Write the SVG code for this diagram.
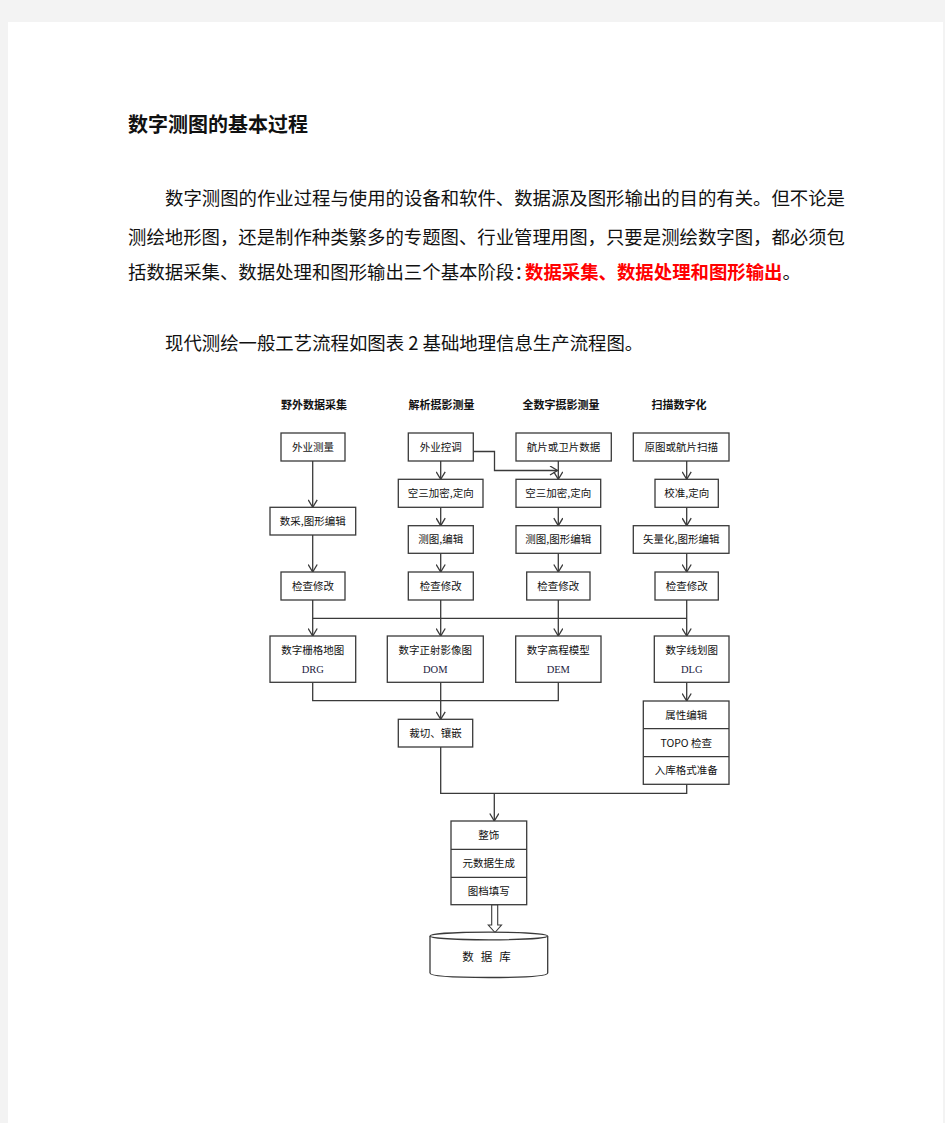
<svg xmlns="http://www.w3.org/2000/svg" width="945" height="1123" viewBox="0 0 945 1123">
<defs>
<style>
.cn{font-family:"Noto Sans CJK SC","Noto Sans",sans-serif;fill:#111}
.t{font-size:10.5px;text-anchor:middle}
.h{font-size:11px;font-weight:bold;text-anchor:middle}
.lat{font-family:"Liberation Serif",serif;font-size:10.5px;text-anchor:middle;fill:#1a1a40}
.box{fill:#fff;stroke:#3a3a3a;stroke-width:1.3}
.ln{fill:none;stroke:#3a3a3a;stroke-width:1.3}
.ar{fill:none;stroke:#3a3a3a;stroke-width:1.3;marker-end:url(#arr)}
.p{font-size:18.4px}
</style>
<marker id="arr" viewBox="0 0 10 10" refX="8.5" refY="5" markerWidth="10" markerHeight="10" markerUnits="userSpaceOnUse" orient="auto">
<path d="M1,0.5 L8.5,5 L1,9.5" fill="none" stroke="#3a3a3a" stroke-width="1.3"/>
</marker>
</defs>
<rect x="0" y="0" width="945" height="1123" fill="#f3f3f3"/>
<rect x="8" y="22" width="935" height="1101" fill="#fff"/>

<g id="header">
<text class="cn" x="128" y="132" font-size="20" font-weight="bold">数字测图的基本过程</text>
<text class="cn p" x="165" y="205" textLength="680" lengthAdjust="spacing">数字测图的作业过程与使用的设备和软件、数据源及图形输出的目的有关。但不论是</text>
<text class="cn p" x="128" y="244" textLength="717" lengthAdjust="spacing">测绘地形图，还是制作种类繁多的专题图、行业管理用图，只要是测绘数字图，都必须包</text>
<text class="cn p" x="128" y="279">括数据采集、数据处理和图形输出三个基本阶段：<tspan x="525" fill="#ff0000" font-weight="bold">数据采集、数据处理和图形输出</tspan>。</text>
<text class="cn p" x="165" y="350">现代测绘一般工艺流程如图表 2 基础地理信息生产流程图。</text>
</g>

<g id="col-titles">
<text class="cn h" x="314" y="409">野外数据采集</text>
<text class="cn h" x="441.5" y="409">解析摄影测量</text>
<text class="cn h" x="561" y="409">全数字摄影测量</text>
<text class="cn h" x="679" y="409">扫描数字化</text>
</g>

<g id="connectors">
<line class="ar" x1="312.7" y1="461" x2="312.7" y2="507.3"/>
<line class="ar" x1="312.7" y1="535" x2="312.7" y2="572"/>
<line class="ar" x1="312.7" y1="600" x2="312.7" y2="636"/>
<line class="ar" x1="440.7" y1="461" x2="440.7" y2="479.3"/>
<line class="ar" x1="440.7" y1="507.3" x2="440.7" y2="525.7"/>
<line class="ar" x1="440.7" y1="553.3" x2="440.7" y2="572"/>
<line class="ar" x1="440.7" y1="600" x2="440.7" y2="636"/>
<polyline class="ar" points="473.3,451.5 494.5,451.5 494.5,470.5 557.5,470.5"/>
<line class="ar" x1="558.3" y1="461" x2="558.3" y2="479.3"/>
<line class="ar" x1="558.3" y1="507.3" x2="558.3" y2="525.7"/>
<line class="ar" x1="558.3" y1="553.3" x2="558.3" y2="572"/>
<line class="ar" x1="558.3" y1="600" x2="558.3" y2="636"/>
<line class="ar" x1="686.7" y1="461" x2="686.7" y2="479.3"/>
<line class="ar" x1="686.7" y1="507.3" x2="686.7" y2="525.7"/>
<line class="ar" x1="686.7" y1="553.3" x2="686.7" y2="572"/>
<line class="ar" x1="686.7" y1="600" x2="686.7" y2="636"/>
<line class="ln" x1="312.7" y1="618.3" x2="686.7" y2="618.3"/>
<polyline class="ln" points="312.7,682.3 312.7,700.7 558.3,700.7 558.3,682.3"/>
<line class="ar" x1="440.7" y1="682.3" x2="440.7" y2="719.3"/>
<line class="ar" x1="686.7" y1="682.3" x2="686.7" y2="701"/>
<polyline class="ln" points="440.7,747 440.7,793.3 686.7,793.3 686.7,784.3"/>
<line class="ar" x1="494.3" y1="793.3" x2="494.3" y2="821"/>
<polygon points="491.7,904.7 491.7,925 488.3,925 495,932.5 501.5,925 497.7,925 497.7,904.7" fill="#fff" stroke="#3a3a3a" stroke-width="1.1"/>
</g>

<g id="n-waiyecl"><rect class="box" x="281" y="433" width="64" height="28"/><text class="cn t" x="313" y="450.7">外业测量</text></g>
<g id="n-waiyekt"><rect class="box" x="408.3" y="433" width="65" height="28"/><text class="cn t" x="440.8" y="450.7">外业控调</text></g>
<g id="n-hangpian"><rect class="box" x="516" y="433" width="95.3" height="28"/><text class="cn t" x="563.6" y="450.7">航片或卫片数据</text></g>
<g id="n-yuantu"><rect class="box" x="633.3" y="433" width="95.7" height="28"/><text class="cn t" x="681.2" y="450.7">原图或航片扫描</text></g>

<g id="n-shucai"><rect class="box" x="270" y="507.3" width="85.7" height="27.7"/><text class="cn t" x="312.8" y="524.8">数采,图形编辑</text></g>
<g id="n-kongsan1"><rect class="box" x="398.3" y="479.3" width="84.7" height="28"/><text class="cn t" x="440.7" y="497">空三加密,定向</text></g>
<g id="n-kongsan2"><rect class="box" x="516" y="479.3" width="84.7" height="28"/><text class="cn t" x="558.3" y="497">空三加密,定向</text></g>
<g id="n-jiaozhun"><rect class="box" x="655" y="479.3" width="63.3" height="28"/><text class="cn t" x="686.7" y="497">校准,定向</text></g>

<g id="n-cetu1"><rect class="box" x="408.3" y="525.7" width="65" height="27.6"/><text class="cn t" x="440.8" y="543.2">测图,编辑</text></g>
<g id="n-cetu2"><rect class="box" x="516" y="525.7" width="84.7" height="27.6"/><text class="cn t" x="558.3" y="543.2">测图,图形编辑</text></g>
<g id="n-shiliang"><rect class="box" x="633.3" y="525.7" width="95.7" height="27.6"/><text class="cn t" x="681.2" y="543.2">矢量化,图形编辑</text></g>

<g id="n-jiancha1"><rect class="box" x="281" y="572" width="64" height="28"/><text class="cn t" x="313" y="589.7">检查修改</text></g>
<g id="n-jiancha2"><rect class="box" x="408.3" y="572" width="65" height="28"/><text class="cn t" x="440.8" y="589.7">检查修改</text></g>
<g id="n-jiancha3"><rect class="box" x="526.7" y="572" width="63.3" height="28"/><text class="cn t" x="558.3" y="589.7">检查修改</text></g>
<g id="n-jiancha4"><rect class="box" x="655" y="572" width="63.3" height="28"/><text class="cn t" x="686.7" y="589.7">检查修改</text></g>

<g id="n-drg"><rect class="box" x="270" y="636" width="85.7" height="46.3"/><text class="cn t" x="312.8" y="653.7">数字栅格地图</text><text class="lat" x="312.8" y="673">DRG</text></g>
<g id="n-dom"><rect class="box" x="387.3" y="636" width="96" height="46.3"/><text class="cn t" x="435.3" y="653.7">数字正射影像图</text><text class="lat" x="435.3" y="673">DOM</text></g>
<g id="n-dem"><rect class="box" x="515.7" y="636" width="85.3" height="46.3"/><text class="cn t" x="558.3" y="653.7">数字高程模型</text><text class="lat" x="558.3" y="673">DEM</text></g>
<g id="n-dlg"><rect class="box" x="654.3" y="636" width="74.7" height="46.3"/><text class="cn t" x="691.7" y="653.7">数字线划图</text><text class="lat" x="691.7" y="673">DLG</text></g>

<g id="n-caiqie"><rect class="box" x="398.3" y="719.3" width="74.4" height="27.7"/><text class="cn t" x="435.5" y="736.8">裁切、镶嵌</text></g>

<g id="n-shuxing">
<rect class="box" x="643.3" y="701" width="85.7" height="83.3"/>
<line class="ln" x1="643.3" y1="728.7" x2="729" y2="728.7"/>
<line class="ln" x1="643.3" y1="756.7" x2="729" y2="756.7"/>
<text class="cn t" x="686.2" y="718.7">属性编辑</text>
<text class="cn t" x="686.2" y="746.5">TOPO 检查</text>
<text class="cn t" x="686.2" y="774.3">入库格式准备</text>
</g>

<g id="n-zhengshi">
<rect class="box" x="451" y="821" width="75.7" height="83.7"/>
<line class="ln" x1="451" y1="849.3" x2="526.7" y2="849.3"/>
<line class="ln" x1="451" y1="877.3" x2="526.7" y2="877.3"/>
<text class="cn t" x="488.8" y="838.7">整饰</text>
<text class="cn t" x="488.8" y="867">元数据生成</text>
<text class="cn t" x="488.8" y="894.7">图档填写</text>
</g>

<g id="n-database">
<path d="M430,936 L430,973 Q430,977.5 488.8,977.5 Q547.7,977.5 547.7,973 L547.7,936" fill="#fff" stroke="#3a3a3a" stroke-width="1.3"/>
<ellipse cx="488.8" cy="936" rx="58.8" ry="3.8" fill="#fff" stroke="#3a3a3a" stroke-width="1.3"/>
<text class="cn" x="490" y="961" font-size="11.5" text-anchor="middle" letter-spacing="7">数据库</text>
</g>
</svg>
